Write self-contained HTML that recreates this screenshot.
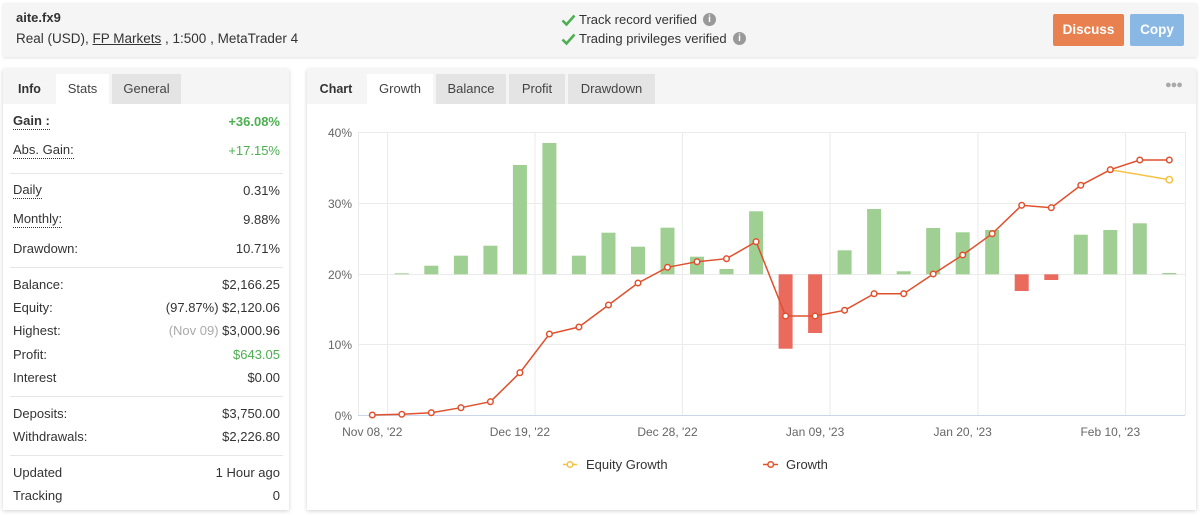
<!DOCTYPE html>
<html><head><meta charset="utf-8">
<style>
*{margin:0;padding:0;box-sizing:border-box}
html,body{width:1200px;height:515px;overflow:hidden;background:#fff;font-family:"Liberation Sans",Arial,sans-serif;color:#333}
.abs{position:absolute}
.hdr{left:3px;top:3px;width:1194px;height:54px;background:#f5f5f5;box-shadow:0 1px 3px rgba(0,0,0,0.12)}
.t{position:absolute;white-space:nowrap;font-size:13px;line-height:16px}
.btn{position:absolute;color:#fff;font-size:13.5px;font-weight:bold;text-align:center;border-radius:2px}
.panel{position:absolute;background:#fff;box-shadow:0 1px 4px rgba(0,0,0,0.18)}
.tabbar{position:absolute;left:0;top:0;right:0;height:35px;background:#f5f5f5}
.tab{position:absolute;top:5px;height:30px;line-height:30px;font-size:13px;text-align:center;color:#444}
.row{position:absolute;left:13px;width:267px;height:18px;font-size:13px;line-height:18px}
.row .l{position:absolute;left:0;top:0;color:#333}
.row .r{position:absolute;right:0;top:0;color:#333}
.dot{border-bottom:1px dotted #333;line-height:16px}
.sep{position:absolute;left:10px;width:273px;height:1px;background:#e6e6e6}
.g{color:#4caf50 !important}
</style></head><body>

<div class="abs hdr"></div>
<div class="t" style="left:16px;top:10px;font-weight:bold;">aite.fx9</div>
<div class="t" style="left:16px;top:31px;font-size:13.5px;">Real (USD), <span style="text-decoration:underline">FP Markets</span> , 1:500 , MetaTrader 4</div>

<svg class="abs" style="left:561px;top:13px" width="15" height="14" viewBox="0 0 15 14"><path d="M1.5 7.5 L5.5 11.5 L13.5 2.5" stroke="#4caf50" stroke-width="2.6" fill="none"/></svg>
<div class="t" style="left:579px;top:12px;">Track record verified</div>
<div class="abs" style="left:703px;top:13px;width:13px;height:13px;border-radius:50%;background:#999;color:#fff;font-size:10px;line-height:13px;text-align:center;font-weight:bold;">i</div>
<svg class="abs" style="left:561px;top:32px" width="15" height="14" viewBox="0 0 15 14"><path d="M1.5 7.5 L5.5 11.5 L13.5 2.5" stroke="#4caf50" stroke-width="2.6" fill="none"/></svg>
<div class="t" style="left:579px;top:31px;">Trading privileges verified</div>
<div class="abs" style="left:733px;top:32px;width:13px;height:13px;border-radius:50%;background:#999;color:#fff;font-size:10px;line-height:13px;text-align:center;font-weight:bold;">i</div>

<div class="btn" style="left:1053px;top:14px;width:71px;height:32px;line-height:32px;background:#e8804f;">Discuss</div>
<div class="btn" style="left:1130px;top:14px;width:54px;height:32px;line-height:32px;background:#8ab8e4;">Copy</div>

<!-- left panel -->
<div class="panel" style="left:3px;top:69px;width:286px;height:441px;">
  <div class="tabbar"></div>
  <div class="tab" style="left:0;width:53px;font-weight:bold;color:#333;font-size:12.5px;">Info</div>
  <div class="tab" style="left:53px;width:53px;background:#fff;">Stats</div>
  <div class="tab" style="left:109px;width:69px;background:#e4e4e4;">General</div>
</div>

<div class="row" style="top:113px"><span class="l dot" style="font-weight:bold">Gain :</span><span class="r g" style="font-weight:bold">+36.08%</span></div>
<div class="row" style="top:142px"><span class="l dot">Abs. Gain:</span><span class="r g">+17.15%</span></div>
<div class="sep" style="top:173px"></div>
<div class="row" style="top:182px"><span class="l dot">Daily</span><span class="r">0.31%</span></div>
<div class="row" style="top:211px"><span class="l dot">Monthly:</span><span class="r">9.88%</span></div>
<div class="row" style="top:240px"><span class="l">Drawdown:</span><span class="r">10.71%</span></div>
<div class="sep" style="top:267px"></div>
<div class="row" style="top:276px"><span class="l">Balance:</span><span class="r">$2,166.25</span></div>
<div class="row" style="top:299px"><span class="l">Equity:</span><span class="r">(97.87%) $2,120.06</span></div>
<div class="row" style="top:322px"><span class="l">Highest:</span><span class="r"><span style="color:#aaa">(Nov 09)</span> $3,000.96</span></div>
<div class="row" style="top:346px"><span class="l">Profit:</span><span class="r g">$643.05</span></div>
<div class="row" style="top:369px"><span class="l">Interest</span><span class="r">$0.00</span></div>
<div class="sep" style="top:396px"></div>
<div class="row" style="top:405px"><span class="l">Deposits:</span><span class="r">$3,750.00</span></div>
<div class="row" style="top:428px"><span class="l">Withdrawals:</span><span class="r">$2,226.80</span></div>
<div class="sep" style="top:455px"></div>
<div class="row" style="top:464px"><span class="l">Updated</span><span class="r">1 Hour ago</span></div>
<div class="row" style="top:487px"><span class="l">Tracking</span><span class="r">0</span></div>

<!-- chart panel -->
<div class="panel" style="left:307px;top:69px;width:889px;height:441px;">
  <div class="tabbar"></div>
  <div class="tab" style="left:0;width:58px;font-weight:bold;color:#333;font-size:12.5px;">Chart</div>
  <div class="tab" style="left:60px;width:66px;background:#fff;">Growth</div>
  <div class="tab" style="left:129px;width:70px;background:#e4e4e4;">Balance</div>
  <div class="tab" style="left:202px;width:56px;background:#e4e4e4;">Profit</div>
  <div class="tab" style="left:261px;width:87px;background:#e4e4e4;">Drawdown</div>
  <div class="abs" style="left:858px;top:10px;font-size:11px;color:#aaa;letter-spacing:-1px;">●●●</div>
</div>

<svg class="abs" style="left:0;top:0" width="1200" height="515" viewBox="0 0 1200 515" font-family="Liberation Sans, Arial, sans-serif">
  <!-- grid -->
  <g stroke="#ebebeb" stroke-width="1">
    <line x1="358" y1="132.5" x2="1185" y2="132.5"/>
    <line x1="358" y1="203.5" x2="1185" y2="203.5"/>
    <line x1="358" y1="274.5" x2="1185" y2="274.5"/>
    <line x1="358" y1="344.5" x2="1185" y2="344.5"/>
    <line x1="358.5" y1="132" x2="358.5" y2="415"/>
    <line x1="1185.5" y1="132" x2="1185.5" y2="415"/>
    <line x1="387.5" y1="132" x2="387.5" y2="415"/>
    <line x1="535" y1="132" x2="535" y2="415"/>
    <line x1="682.5" y1="132" x2="682.5" y2="415"/>
    <line x1="830" y1="132" x2="830" y2="415"/>
    <line x1="978" y1="132" x2="978" y2="415"/>
    <line x1="1125.5" y1="132" x2="1125.5" y2="415"/>
  </g>
  <line x1="358" y1="415.5" x2="1185" y2="415.5" stroke="#ccd6eb" stroke-width="1"/>
  <!-- y labels -->
  <g font-size="12" fill="#666" text-anchor="end">
    <text x="352" y="137">40%</text>
    <text x="352" y="208">30%</text>
    <text x="352" y="279">20%</text>
    <text x="352" y="349">10%</text>
    <text x="352" y="420">0%</text>
  </g>
  <!-- x labels -->
  <g font-size="12" fill="#666" text-anchor="middle">
    <text x="372.3" y="436">Nov 08, '22</text>
    <text x="519.9" y="436">Dec 19, '22</text>
    <text x="667.5" y="436">Dec 28, '22</text>
    <text x="815.1" y="436">Jan 09, '23</text>
    <text x="962.7" y="436">Jan 20, '23</text>
    <text x="1110.3" y="436">Feb 10, '23</text>
  </g>
  <!-- bars -->
  <g fill="#a0cf94">
    <rect x="394.8" y="273.3" width="14" height="1"/>
    <rect x="424.3" y="265.7" width="14" height="8.6"/>
    <rect x="453.9" y="255.7" width="14" height="18.6"/>
    <rect x="483.4" y="245.7" width="14" height="28.6"/>
    <rect x="512.9" y="165" width="14" height="109.3"/>
    <rect x="542.4" y="143" width="14" height="131.3"/>
    <rect x="571.9" y="255.7" width="14" height="18.6"/>
    <rect x="601.5" y="232.7" width="14" height="41.6"/>
    <rect x="631" y="246.7" width="14" height="27.6"/>
    <rect x="660.5" y="227.7" width="14" height="46.6"/>
    <rect x="690" y="256.7" width="14" height="17.6"/>
    <rect x="719.5" y="269" width="14" height="5.3"/>
    <rect x="749.1" y="211.3" width="14" height="63"/>
    <rect x="837.6" y="250.3" width="14" height="24"/>
    <rect x="867.1" y="209" width="14" height="65.3"/>
    <rect x="896.7" y="271.3" width="14" height="3"/>
    <rect x="926.2" y="228" width="14" height="46.3"/>
    <rect x="955.7" y="232.3" width="14" height="42"/>
    <rect x="985.2" y="230" width="14" height="44.3"/>
    <rect x="1073.8" y="234.7" width="14" height="39.6"/>
    <rect x="1103.3" y="230" width="14" height="44.3"/>
    <rect x="1132.8" y="223.3" width="14" height="51"/>
    <rect x="1162.3" y="273" width="14" height="1.3"/>
  </g>
  <g fill="#ea6b5e">
    <rect x="778.6" y="274.3" width="14" height="74.4"/>
    <rect x="808.1" y="274.3" width="14" height="58.7"/>
    <rect x="1014.7" y="274.3" width="14" height="16.7"/>
    <rect x="1044.3" y="274.3" width="14" height="5.7"/>
  </g>
  <!-- equity line -->
  <polyline fill="none" stroke="#f5c243" stroke-width="1.5" points="1110.3,169.7 1169.3,179.7"/>
  <circle cx="1169.3" cy="179.7" r="3.2" fill="#fff" stroke="#f5c243" stroke-width="1.5"/>
  <!-- growth line -->
  <polyline fill="none" stroke="#e0502d" stroke-width="1.5" points="372.3,415 401.8,414.3 431.3,412.7 460.9,407.7 490.4,401.7 519.9,372.7 549.4,334 578.9,327 608.5,305 638,283 667.5,267.3 697,261.7 726.5,258.7 756.1,241.7 785.6,316 815.1,316 844.6,310.3 874.1,293.7 903.7,293.7 933.2,274 962.7,255 992.2,233.7 1021.7,205.3 1051.3,207.7 1080.8,185.3 1110.3,169.7 1139.8,160 1169.3,160"/>
  <g fill="#fff" stroke="#e0502d" stroke-width="1.5">
    <circle cx="372.3" cy="415" r="2.8"/><circle cx="401.8" cy="414.3" r="2.8"/><circle cx="431.3" cy="412.7" r="2.8"/><circle cx="460.9" cy="407.7" r="2.8"/><circle cx="490.4" cy="401.7" r="2.8"/><circle cx="519.9" cy="372.7" r="2.8"/><circle cx="549.4" cy="334" r="2.8"/><circle cx="578.9" cy="327" r="2.8"/><circle cx="608.5" cy="305" r="2.8"/><circle cx="638" cy="283" r="2.8"/><circle cx="667.5" cy="267.3" r="2.8"/><circle cx="697" cy="261.7" r="2.8"/><circle cx="726.5" cy="258.7" r="2.8"/><circle cx="756.1" cy="241.7" r="2.8"/><circle cx="785.6" cy="316" r="2.8"/><circle cx="815.1" cy="316" r="2.8"/><circle cx="844.6" cy="310.3" r="2.8"/><circle cx="874.1" cy="293.7" r="2.8"/><circle cx="903.7" cy="293.7" r="2.8"/><circle cx="933.2" cy="274" r="2.8"/><circle cx="962.7" cy="255" r="2.8"/><circle cx="992.2" cy="233.7" r="2.8"/><circle cx="1021.7" cy="205.3" r="2.8"/><circle cx="1051.3" cy="207.7" r="2.8"/><circle cx="1080.8" cy="185.3" r="2.8"/><circle cx="1110.3" cy="169.7" r="2.8"/><circle cx="1139.8" cy="160" r="2.8"/><circle cx="1169.3" cy="160" r="2.8"/>
  </g>
  <!-- legend -->
  <line x1="563" y1="464.5" x2="577" y2="464.5" stroke="#f5c243" stroke-width="1.5"/>
  <circle cx="570" cy="464.5" r="2.8" fill="#fff" stroke="#f5c243" stroke-width="1.5"/>
  <text x="586" y="469" font-size="13" fill="#333">Equity Growth</text>
  <line x1="763" y1="464.5" x2="778" y2="464.5" stroke="#e0502d" stroke-width="1.5"/>
  <circle cx="770.7" cy="464.5" r="2.8" fill="#fff" stroke="#e0502d" stroke-width="1.5"/>
  <text x="786" y="469" font-size="13" fill="#333">Growth</text>
</svg>

</body></html>
